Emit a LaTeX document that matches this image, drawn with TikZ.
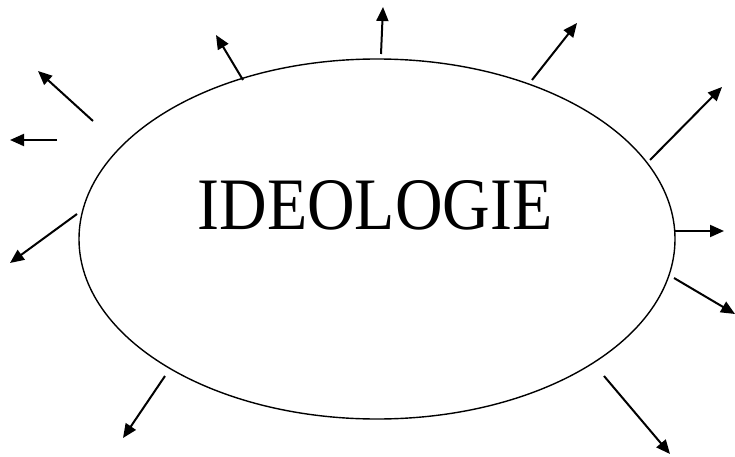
\documentclass[tikz,border=0pt]{standalone}
\usepackage{fontspec}
\setmainfont{Liberation Serif}
\newfontfamily\ideofont[FakeStretch=0.89]{Liberation Serif}
\usepackage{tikz}
\usetikzlibrary{arrows.meta, shapes.geometric, positioning}

\tikzset{
  ray/.style={line width=2pt, -{Triangle[length=14pt, width=12pt]}},
}

\begin{document}
\begin{tikzpicture}[x=1pt, y=-1pt]

\useasboundingbox (0,0) rectangle (735,457);

% Central ellipse
\node[draw, ellipse, line width=1.4pt, minimum width=596pt, minimum height=360pt, inner sep=0pt] (ideo) at (377,239) {};

% Title
\node[font=\ideofont\fontsize{74}{80}\selectfont, anchor=base, inner sep=0pt] (title) at (375,229) {IDEOLOGIE};

% ---- Rays: start / tip ----
\foreach \n/\sx/\sy/\tx/\ty in {
  a/93/121/38/71,
  b/57/140/10/140,
  c/77/214/10/263,
  d/243/80/216/35,
  e/381/54/383/7,
  f/532/80/577/23,
  g/650/160/722/87,
  h/674/231/724/231,
  i/674/278/735/314,
  j/165/376/123/438,
  k/604/376/670/454}
{
  \coordinate (s\n) at (\sx,\sy);
  \coordinate (t\n) at (\tx,\ty);
  \draw[ray] (s\n) -- (t\n);
}

\end{tikzpicture}
\end{document}
